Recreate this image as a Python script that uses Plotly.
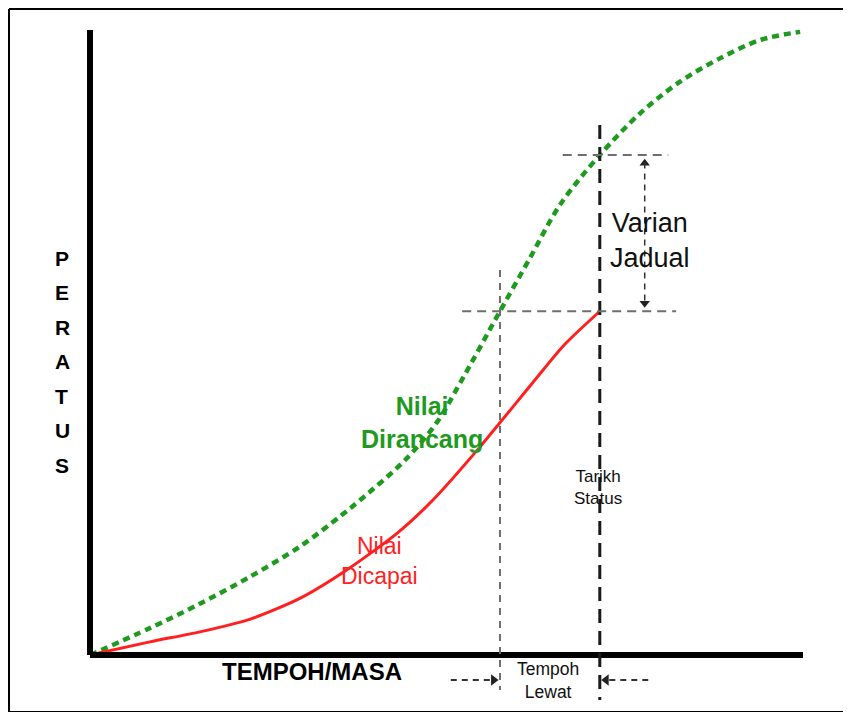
import plotly.graph_objects as go

# Planned value curve (Nilai Dirancang): time vs percent
plan_t = [0, 8.4, 15.4, 22.4, 29.5, 35.1, 37.9, 44.2, 48.7, 51.9, 57.5, 61.7, 65.9, 71.5, 77.1, 82.7, 88.4, 94.0, 99.6]
plan_p = [0, 4.3, 8.2, 12.5, 17.4, 22.2, 24.8, 31.2, 37.3, 43.5, 55.0, 63.5, 72.0, 80.0, 86.6, 91.7, 95.5, 98.4, 99.7]

# Earned value curve (Nilai Dicapai)
earn_t = [0, 8.4, 15.4, 22.4, 29.5, 36.0, 43.1, 48.1, 54.7, 62.4, 66.5, 71.5]
earn_p = [0, 2.1, 3.7, 5.7, 9.1, 13.6, 19.5, 24.8, 33.3, 44.0, 49.6, 55.0]

status_t = 71.5      # Tarikh Status
lag_t = 57.5         # time at which plan reached the earned value
plan_at_status = 80.0
earn_at_status = 55.0

ylabel_letters = ["P", "E", "R", "A", "T", "U", "S"]

OFF = 8  # page offset of the figure (body margin)
W, H = 851 - 2 * OFF, 720 - 2 * OFF
xr = [(OFF - 90) / 7.13, (OFF + W - 90) / 7.13]
yr = [(655 - OFF - H) / 6.25, (655 - OFF) / 6.25]


def px(p):
    return (p - OFF) / W


def py(p):
    return 1 - (p - OFF) / H


fig = go.Figure()

GREEN = "#1e9a1e"
RED = "#ff1f1f"
GREY = "#6e6e6e"

fig.add_trace(go.Scatter(x=plan_t, y=plan_p, mode="lines", line=dict(color=GREEN, width=4.5, dash="7px,5px", shape="spline", smoothing=0.9), hoverinfo="skip"))
fig.add_trace(go.Scatter(x=earn_t, y=earn_p, mode="lines", line=dict(color=RED, width=3, shape="spline", smoothing=0.7), hoverinfo="skip"))

shapes = []
# axes
shapes.append(dict(type="line", x0=0, x1=0, y0=0, y1=100, xref="x", yref="y", line=dict(color="black", width=6)))
shapes.append(dict(type="line", x0=0, x1=100, y0=0, y1=0, xref="x", yref="y", line=dict(color="black", width=6)))
# reference dashed lines
shapes.append(dict(type="line", x0=lag_t, x1=lag_t, y0=61.6, y1=-5.6, xref="x", yref="y", line=dict(color=GREY, width=2, dash="7px,6px")))
shapes.append(dict(type="line", x0=status_t, x1=status_t, y0=84.8, y1=-7.2, xref="x", yref="y", line=dict(color="#1a1a1a", width=3, dash="14px,8px")))
shapes.append(dict(type="line", x0=66.3, x1=81.1, y0=plan_at_status, y1=plan_at_status, xref="x", yref="y", line=dict(color=GREY, width=2, dash="9px,6px")))
shapes.append(dict(type="line", x0=52.2, x1=82.2, y0=earn_at_status, y1=earn_at_status, xref="x", yref="y", line=dict(color=GREY, width=2, dash="9px,6px")))
# varian arrow shaft
shapes.append(dict(type="line", x0=77.8, x1=77.8, y0=plan_at_status - 1.2, y1=earn_at_status + 1.2, xref="x", yref="y", line=dict(color="#333", width=1.5, dash="6px,5px")))
# tempoh lewat arrow shafts
shapes.append(dict(type="line", x0=50.6, x1=56.5, y0=-4.0, y1=-4.0, xref="x", yref="y", line=dict(color="#333", width=1.8, dash="6px,5px")))
shapes.append(dict(type="line", x0=78.3, x1=72.6, y0=-4.0, y1=-4.0, xref="x", yref="y", line=dict(color="#333", width=1.8, dash="6px,5px")))
# outer frame (left, top, bottom)
fl = 1 / W
ft = 1 - 1 / H
fb = py(712)
shapes.append(dict(type="line", x0=fl, x1=fl, y0=fb, y1=ft, xref="paper", yref="paper", line=dict(color="black", width=2)))
shapes.append(dict(type="line", x0=fl, x1=1, y0=ft, y1=ft, xref="paper", yref="paper", line=dict(color="black", width=2)))
shapes.append(dict(type="line", x0=fl, x1=1, y0=fb, y1=fb, xref="paper", yref="paper", line=dict(color="black", width=2)))
fig.update_layout(shapes=shapes)

# arrow heads
fig.add_trace(go.Scatter(x=[77.8, 77.8], y=[plan_at_status - 1.3, earn_at_status + 1.3], mode="markers",
                         marker=dict(symbol=["triangle-up", "triangle-down"], size=9, color="#222"), hoverinfo="skip"))
fig.add_trace(go.Scatter(x=[lag_t - 0.9, status_t + 0.9], y=[-4.0, -4.0], mode="markers",
                         marker=dict(symbol=["triangle-right", "triangle-left"], size=10, color="#222"), hoverinfo="skip"))

NARROW = "Liberation Sans Narrow, Arial Narrow, Liberation Sans, Arial"
ann = []
ann.append(dict(x=78.5, y=66.4, text="Varian<br>Jadual", font=dict(family=NARROW, size=27, color="#111"), showarrow=False, xref="x", yref="y"))
ann.append(dict(x=46.5, y=37.2, text="<b>Nilai<br>Dirancang</b>", font=dict(family=NARROW, size=25, color=GREEN), showarrow=False, xref="x", yref="y"))
ann.append(dict(x=40.6, y=15.1, text="Nilai<br>Dicapai", font=dict(family=NARROW, size=23, color=RED), showarrow=False, xref="x", yref="y"))
ann.append(dict(x=71.2, y=26.8, text="Tarikh<br>Status", font=dict(family=NARROW, size=17, color="#111"), showarrow=False, xref="x", yref="y"))
ann.append(dict(x=64.2, y=-4.0, text="Tempoh<br>Lewat", font=dict(family=NARROW, size=17.5, color="#111"), showarrow=False, xref="x", yref="y"))
ann.append(dict(x=px(312), y=py(687), text="<b>TEMPOH/MASA</b>", font=dict(family="Liberation Sans, Arial", size=24, color="black"), showarrow=False, xref="paper", yref="paper"))
for i, ch in enumerate(ylabel_letters):
    ann.append(dict(x=px(53), y=py(258 + i * 34.5), text="<b>" + ch + "</b>", font=dict(family="Liberation Sans, Arial", size=21, color="black"), showarrow=False, xref="paper", yref="paper"))
fig.update_layout(annotations=ann)

fig.update_layout(
    width=W, height=H,
    margin=dict(l=0, r=0, t=0, b=0),
    paper_bgcolor="white", plot_bgcolor="white",
    showlegend=False,
    xaxis=dict(range=xr, visible=False, fixedrange=True),
    yaxis=dict(range=yr, visible=False, fixedrange=True),
)

fig.write_html("out.html", config={"displayModeBar": False})
